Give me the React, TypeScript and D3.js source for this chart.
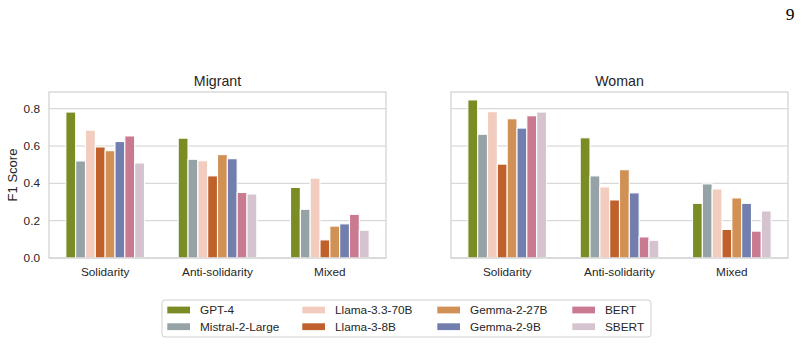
import React, { useEffect, useRef } from "react";
import * as d3 from "d3";

const categories = ["Solidarity", "Anti-solidarity", "Mixed"];
const models = [
  "GPT-4",
  "Mistral-2-Large",
  "Llama-3.3-70B",
  "Llama-3-8B",
  "Gemma-2-27B",
  "Gemma-2-9B",
  "BERT",
  "SBERT",
];
const modelColors = [
  "#7a8c24",
  "#95a3a6",
  "#f2cdbf",
  "#c0602a",
  "#d19155",
  "#727fae",
  "#c97a90",
  "#d5c4d0",
];

// F1 per model, one array per target group and category
const migrantSolidarity = [0.782, 0.52, 0.685, 0.595, 0.575, 0.624, 0.654, 0.509];
const migrantAnti = [0.642, 0.529, 0.521, 0.44, 0.554, 0.532, 0.351, 0.343];
const migrantMixed = [0.378, 0.261, 0.428, 0.097, 0.171, 0.183, 0.234, 0.149];
const womanSolidarity = [0.847, 0.663, 0.784, 0.503, 0.746, 0.696, 0.762, 0.782];
const womanAnti = [0.644, 0.44, 0.381, 0.311, 0.473, 0.349, 0.113, 0.095];
const womanMixed = [0.293, 0.397, 0.37, 0.153, 0.322, 0.293, 0.144, 0.252];

const yTicks = [0, 0.2, 0.4, 0.6, 0.8];

const W = 803;
const H = 345;
const FONT = "'Liberation Sans', Arial, sans-serif";
const INK = "#262626";
const GRID = "#d0d0d0";

const App = () => {
  const svgRef = useRef<SVGSVGElement>(null);

  useEffect(() => {
    const svg = d3.select(svgRef.current);
    svg.selectAll("*").remove();

    const top = 92;
    const bottom = 258;
    const yMax = d3.max([...womanSolidarity, ...migrantSolidarity])! * 1.05;
    const y = d3.scaleLinear().domain([0, yMax]).range([bottom, top]);

    const panels = [
      { title: "Migrant", x0: 49, x1: 386, showY: true, scores: [migrantSolidarity, migrantAnti, migrantMixed] },
      { title: "Woman", x0: 451, x1: 788, showY: false, scores: [womanSolidarity, womanAnti, womanMixed] },
    ];

    panels.forEach((p) => {
      const g = svg.append("g");

      const x = d3
        .scaleBand()
        .domain(categories)
        .range([p.x0, p.x1])
        .paddingInner(0.3)
        .paddingOuter(0.15);
      const xi = d3.scaleBand().domain(models).range([0, x.bandwidth()]);

      // grid lines
      g.selectAll(".grid")
        .data(yTicks)
        .join("line")
        .attr("x1", p.x0)
        .attr("x2", p.x1)
        .attr("y1", (d) => y(d))
        .attr("y2", (d) => y(d))
        .attr("stroke", GRID)
        .attr("stroke-width", 1);

      // bars
      categories.forEach((cat, ci) => {
        g.append("g")
          .selectAll("rect")
          .data(p.scores[ci])
          .join("rect")
          .attr("x", (d, i) => x(cat)! + xi(models[i])!)
          .attr("y", (d) => y(d))
          .attr("width", xi.bandwidth())
          .attr("height", (d) => bottom - y(d))
          .attr("fill", (d, i) => modelColors[i])
          .attr("stroke", "#fff")
          .attr("stroke-width", 1.1);
      });

      // frame
      g.append("rect")
        .attr("x", p.x0)
        .attr("y", top)
        .attr("width", p.x1 - p.x0)
        .attr("height", bottom - top)
        .attr("fill", "none")
        .attr("stroke", GRID)
        .attr("stroke-width", 1.2);

      g.append("text")
        .attr("x", (p.x0 + p.x1) / 2)
        .attr("y", 86)
        .attr("text-anchor", "middle")
        .style("font-family", FONT)
        .style("font-size", "14.2px")
        .style("fill", INK)
        .text(p.title);

      g.selectAll(".xt")
        .data(categories)
        .join("text")
        .attr("x", (d) => x(d)! + x.bandwidth() / 2)
        .attr("y", 276)
        .attr("text-anchor", "middle")
        .style("font-family", FONT)
        .style("font-size", "11.8px")
        .style("fill", INK)
        .text((d) => d);

      if (p.showY) {
        g.selectAll(".yt")
          .data(yTicks)
          .join("text")
          .attr("x", p.x0 - 9)
          .attr("y", (d) => y(d))
          .attr("dy", "0.35em")
          .attr("text-anchor", "end")
          .style("font-family", FONT)
          .style("font-size", "11.8px")
          .style("fill", INK)
          .text((d) => d.toFixed(1));

        g.append("text")
          .attr("transform", `translate(16.5,${(top + bottom) / 2}) rotate(-90)`)
          .attr("text-anchor", "middle")
          .style("font-family", FONT)
          .style("font-size", "13px")
          .style("fill", INK)
          .text("F1 Score");
      }
    });

    // legend
    const lg = svg.append("g");
    lg.append("rect")
      .attr("x", 162)
      .attr("y", 300)
      .attr("width", 489)
      .attr("height", 37)
      .attr("rx", 3)
      .attr("fill", "#fff")
      .attr("stroke", GRID)
      .attr("stroke-width", 1);

    const colX = d3.scaleLinear().domain([0, 1]).range([167.3, 302.3]);
    const rowY = d3.scaleLinear().domain([0, 1]).range([310, 326.7]);
    models.forEach((m, i) => {
      const cx = colX(Math.floor(i / 2));
      const cy = rowY(i % 2);
      lg.append("rect")
        .attr("x", cx)
        .attr("y", cy - 3.4)
        .attr("width", 22.7)
        .attr("height", 6.8)
        .attr("fill", modelColors[i]);
      lg.append("text")
        .attr("x", cx + 32.7)
        .attr("y", cy)
        .attr("dy", "0.35em")
        .style("font-family", FONT)
        .style("font-size", "11.8px")
        .style("fill", INK)
        .text(m);
    });

    // page number
    svg.append("text")
      .attr("x", 794.5)
      .attr("y", 19.5)
      .attr("text-anchor", "end")
      .style("font-family", "'Liberation Serif', 'Times New Roman', serif")
      .style("font-size", "17.5px")
      .style("fill", "#000")
      .text("9");
  }, []);

  return (
    <div style={{ position: "absolute", left: 0, top: 0 }}>
      <svg ref={svgRef} width={W} height={H} style={{ display: "block", background: "#fff" }}></svg>
    </div>
  );
};

export default App;
